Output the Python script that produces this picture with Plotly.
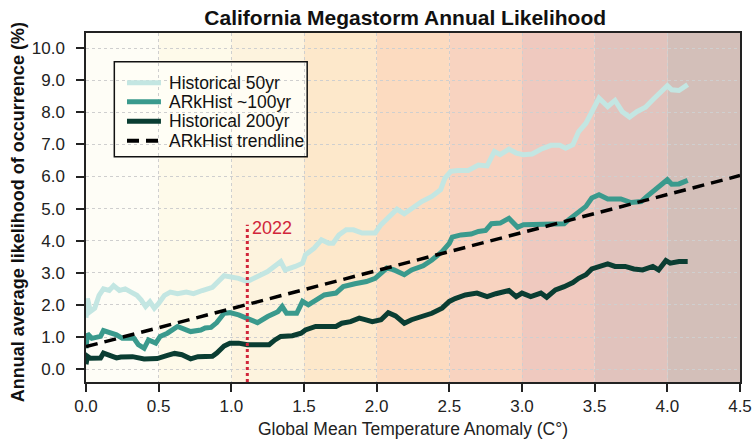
import plotly.graph_objects as go

# ---------------- data ----------------
hist50_x = [0.00, 0.01, 0.03, 0.06, 0.09, 0.12, 0.16, 0.19, 0.23, 0.27, 0.31, 0.35, 0.38, 0.41, 0.44, 0.47,
            0.50, 0.54, 0.58, 0.63, 0.69, 0.74, 0.80, 0.87, 0.95, 0.99, 1.05, 1.11, 1.19, 1.25, 1.34, 1.37,
            1.44, 1.49, 1.51, 1.57, 1.62, 1.67, 1.70, 1.74, 1.79, 1.84, 1.90, 1.99, 2.03, 2.08, 2.14, 2.19,
            2.26, 2.31, 2.38, 2.44, 2.47, 2.51, 2.56, 2.63, 2.70, 2.76, 2.81, 2.85, 2.91, 2.96, 3.01, 3.07,
            3.13, 3.20, 3.26, 3.30, 3.35, 3.39, 3.44, 3.48, 3.53, 3.59, 3.64, 3.69, 3.74, 3.79, 3.85, 3.90,
            3.95, 4.00, 4.03, 4.08, 4.14]
hist50_y = [1.60, 2.20, 1.80, 1.90, 2.30, 2.50, 2.45, 2.60, 2.45, 2.50, 2.40, 2.30, 2.15, 1.95, 2.10, 1.90,
            2.05, 2.30, 2.40, 2.35, 2.40, 2.35, 2.45, 2.55, 2.91, 2.89, 2.83, 2.73, 2.89, 3.04, 3.35, 3.09,
            3.20, 3.30, 3.56, 3.77, 4.03, 3.92, 3.92, 4.18, 4.34, 4.34, 4.24, 4.24, 4.50, 4.70, 4.98, 4.84,
            5.07, 5.22, 5.38, 5.59, 5.95, 6.16, 6.19, 6.19, 6.36, 6.33, 6.78, 6.68, 6.85, 6.73, 6.68, 6.70,
            6.85, 6.97, 6.97, 6.88, 6.99, 7.40, 7.66, 8.02, 8.44, 8.18, 8.37, 8.02, 7.85, 8.02, 8.16, 8.39,
            8.60, 8.83, 8.70, 8.68, 8.86]

ark100_x = [0.00, 0.01, 0.04, 0.10, 0.12, 0.17, 0.21, 0.25, 0.33, 0.36, 0.40, 0.43, 0.48, 0.51, 0.56, 0.63,
            0.72, 0.79, 0.82, 0.86, 0.90, 0.95, 0.99, 1.05, 1.11, 1.18, 1.25, 1.32, 1.35, 1.38, 1.45, 1.49,
            1.53, 1.59, 1.64, 1.72, 1.77, 1.85, 1.93, 1.99, 2.07, 2.12, 2.19, 2.24, 2.32, 2.38, 2.45, 2.50,
            2.52, 2.58, 2.65, 2.70, 2.75, 2.79, 2.85, 2.91, 2.97, 3.01, 3.16, 3.29, 3.32, 3.35, 3.39, 3.44,
            3.48, 3.53, 3.59, 3.68, 3.75, 3.82, 3.86, 3.90, 3.94, 4.00, 4.03, 4.08, 4.14]
ark100_y = [0.65, 1.10, 0.96, 1.02, 1.20, 1.12, 1.07, 0.96, 0.96, 0.76, 0.65, 0.91, 0.81, 1.02, 1.12, 1.33,
            1.17, 1.22, 1.28, 1.30, 1.45, 1.74, 1.76, 1.69, 1.59, 1.45, 1.64, 1.79, 1.95, 1.74, 1.74, 2.11,
            2.00, 2.16, 2.31, 2.37, 2.57, 2.66, 2.73, 2.83, 3.15, 3.09, 2.94, 3.09, 3.22, 3.40, 3.66, 3.92,
            4.11, 4.18, 4.21, 4.29, 4.32, 4.53, 4.55, 4.70, 4.42, 4.50, 4.52, 4.53, 4.65, 4.75, 4.91, 5.07,
            5.33, 5.43, 5.30, 5.30, 5.19, 5.22, 5.38, 5.53, 5.64, 5.90, 5.76, 5.77, 5.88]

hist200_x = [0.00, 0.01, 0.03, 0.10, 0.12, 0.16, 0.21, 0.24, 0.32, 0.40, 0.49, 0.56, 0.61, 0.66, 0.72, 0.77,
             0.87, 0.90, 0.95, 0.99, 1.05, 1.11, 1.26, 1.30, 1.34, 1.42, 1.48, 1.51, 1.58, 1.72, 1.76, 1.82,
             1.88, 1.92, 1.97, 2.03, 2.08, 2.13, 2.19, 2.24, 2.32, 2.38, 2.45, 2.50, 2.54, 2.61, 2.69, 2.76,
             2.82, 2.91, 2.96, 3.00, 3.06, 3.13, 3.17, 3.23, 3.29, 3.35, 3.39, 3.44, 3.48, 3.53, 3.59, 3.64,
             3.71, 3.77, 3.83, 3.90, 3.94, 3.99, 4.02, 4.08, 4.14]
hist200_y = [0.15, 0.40, 0.34, 0.35, 0.50, 0.42, 0.35, 0.38, 0.39, 0.32, 0.33, 0.43, 0.49, 0.45, 0.32, 0.39,
             0.40, 0.50, 0.72, 0.81, 0.81, 0.76, 0.76, 0.91, 1.02, 1.04, 1.12, 1.22, 1.33, 1.33, 1.43, 1.48,
             1.59, 1.54, 1.48, 1.54, 1.76, 1.66, 1.43, 1.54, 1.64, 1.74, 1.90, 2.11, 2.20, 2.31, 2.37, 2.26,
             2.35, 2.45, 2.26, 2.37, 2.26, 2.37, 2.24, 2.47, 2.57, 2.70, 2.83, 2.94, 3.12, 3.20, 3.28, 3.20,
             3.20, 3.12, 3.09, 3.20, 3.09, 3.38, 3.30, 3.35, 3.35]

trend_x = [0.0, 4.5]
trend_y = [0.70, 6.03]

series_names = ["Historical 50yr", "ARkHist ~100yr", "Historical 200yr", "ARkHist trendline"]
series_colors = ["#c3e6e2", "#3a9a8d", "#0a3d32", "#000000"]

band_edges = [0.0, 0.5, 1.0, 1.5, 2.0, 2.5, 3.0, 3.5, 4.0, 4.5]
band_colors = ["#fefdf6", "#fefaea", "#fdf3de", "#fde8cb", "#fcdbc0",
               "#f8d3c0", "#efc9bf", "#e1c3bd", "#d3bfb9"]

marker_x = 1.11
marker_top = 4.5
marker_label = "2022"

x_ticks = [0.0, 0.5, 1.0, 1.5, 2.0, 2.5, 3.0, 3.5, 4.0, 4.5]
y_ticks = [0.0, 1.0, 2.0, 3.0, 4.0, 5.0, 6.0, 7.0, 8.0, 9.0, 10.0]

# ---------------- figure ----------------
FONT = "Liberation Sans, Arial, Helvetica, sans-serif"
DASH = "12px,7px"

fig = go.Figure()
for xs, ys, nm, col in [(hist50_x, hist50_y, series_names[0], series_colors[0]),
                        (ark100_x, ark100_y, series_names[1], series_colors[1]),
                        (hist200_x, hist200_y, series_names[2], series_colors[2])]:
    fig.add_trace(go.Scatter(x=xs, y=ys, mode="lines", name=nm, showlegend=False,
                             line=dict(color=col, width=5)))
fig.add_trace(go.Scatter(x=trend_x, y=trend_y, mode="lines", name=series_names[3], showlegend=False,
                         line=dict(color=series_colors[3], width=3.5, dash=DASH)))

# background temperature bands
for i, c in enumerate(band_colors):
    fig.add_shape(type="rect", xref="x", yref="paper", x0=band_edges[i], x1=band_edges[i + 1],
                  y0=0, y1=1, fillcolor=c, line=dict(width=0), layer="below")

# 2022 marker
fig.add_shape(type="line", xref="x", yref="y", x0=marker_x, x1=marker_x, y0=-0.4, y1=marker_top,
              line=dict(color="#d1253a", width=3, dash="dot"), layer="above")
fig.add_annotation(x=marker_x, y=4.40, xref="x", yref="y", text=marker_label, showarrow=False,
                   xanchor="left", yanchor="middle", xshift=3,
                   font=dict(family=FONT, size=18, color="#d1253a"))

# legend (drawn as a framed key inside the plot)
leg_x0, leg_x1, leg_y0, leg_y1 = 0.0433, 0.3382, 0.6456, 0.9178
leg_rows = [0.8576, 0.8032, 0.7473, 0.6914]
fig.add_shape(type="rect", xref="paper", yref="paper", x0=leg_x0, x1=leg_x1, y0=leg_y0, y1=leg_y1,
              fillcolor="rgba(255,254,246,0.9)", line=dict(color="#111111", width=1.5), layer="between")
for i, (nm, col) in enumerate(zip(series_names, series_colors)):
    fig.add_shape(type="line", xref="paper", yref="paper", x0=0.0627, x1=0.1146,
                  y0=leg_rows[i], y1=leg_rows[i],
                  line=dict(color=col, width=5 if i < 3 else 4, dash="solid" if i < 3 else DASH),
                  layer="above")
    fig.add_annotation(x=0.1240, y=leg_rows[i], xref="paper", yref="paper", text=nm, showarrow=False,
                       xanchor="left", yanchor="middle",
                       font=dict(family=FONT, size=17.5, color="#111111"))

# y-axis title placed to match the original's slight downward offset
fig.add_annotation(x=0, y=0.4865, xref="paper", yref="paper", xanchor="center", yanchor="middle",
                   xshift=-68, textangle=-90, showarrow=False,
                   text="<b>Annual average likelihood of occurrence (%)</b>",
                   font=dict(family=FONT, size=18, color="#111111"))

fig.update_layout(
    width=756, height=441,
    margin=dict(l=86, r=16, t=33, b=59, autoexpand=False),
    paper_bgcolor="white",
    plot_bgcolor="white",
    font=dict(family=FONT, size=17, color="#222222"),
    title=dict(text="<b>California Megastorm Annual Likelihood</b>", x=0.536, xanchor="center",
               y=0.961, yanchor="middle", font=dict(family=FONT, size=21, color="#111111")),
    showlegend=False,
    xaxis=dict(range=[0, 4.5], tickvals=x_ticks, tickformat=".1f",
               showgrid=True, gridcolor="#cfcfcf", griddash="dot", gridwidth=1,
               showline=True, linecolor="#222222", linewidth=1.5, mirror=True,
               ticks="outside", ticklen=8, tickcolor="#222222", tickwidth=1.5,
               zeroline=False, automargin=False,
               tickfont=dict(family=FONT, size=17, color="#222222"),
               title=dict(text="Global Mean Temperature Anomaly (C°)", standoff=8,
                          font=dict(family=FONT, size=17.5, color="#222222"))),
    yaxis=dict(range=[-0.4, 10.47], tickvals=y_ticks, tickformat=".1f",
               showgrid=True, gridcolor="#cfcfcf", griddash="dot", gridwidth=1,
               showline=True, linecolor="#222222", linewidth=1.5, mirror=True,
               ticks="outside", ticklen=8, tickcolor="#222222", tickwidth=1.5,
               ticklabelstandoff=8,
               zeroline=False, automargin=False,
               tickfont=dict(family=FONT, size=17, color="#222222")),
)

fig.write_html("out.html", config={"displayModeBar": False},
               post_script="document.body.style.margin='0';document.body.style.overflow='hidden';")
